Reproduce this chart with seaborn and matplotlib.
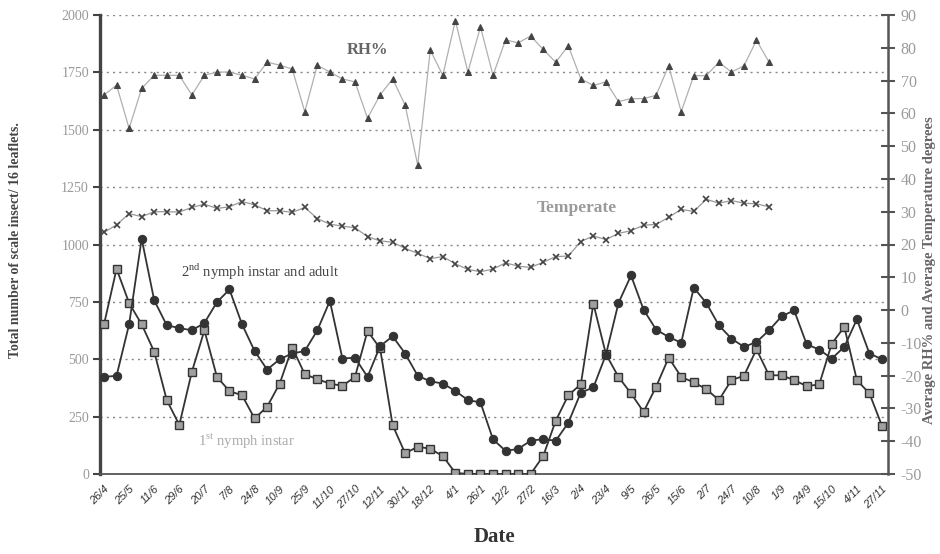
import matplotlib
matplotlib.use("Agg")
import matplotlib.pyplot as plt
import seaborn as sns
import numpy as np
import pandas as pd

date_labels = ["26/4", "25/5", "11/6", "29/6", "20/7", "7/8", "24/8", "10/9", "25/9",
               "11/10", "27/10", "12/11", "30/11", "18/12", "4/1", "26/1", "12/2", "27/2",
               "16/3", "2/4", "23/4", "9/5", "26/5", "15/6", "2/7", "24/7", "10/8", "1/9",
               "24/9", "15/10", "4/11", "27/11"]

first_instar = [652, 894, 745, 652, 533, 322, 214, 445, 626, 423,
                361, 343, 242, 293, 394, 551, 435, 413, 394, 384,
                423, 623, 548, 213, 90, 119, 110, 78, 5,
                0, 0, 0, 0, 0, 0,
                78, 232, 343, 391, 742, 522, 423, 351, 271, 380,
                507, 423, 399, 370, 322, 409, 428, 543, 430, 430,
                409, 383, 390, 568, 641, 409, 351, 210]

second_instar_adult = [423, 428, 652, 1025, 757, 648, 636, 626, 658, 749,
                       804, 652, 536, 455, 500, 525, 536, 626, 754, 503,
                       507, 423, 557, 600, 525, 428, 404, 394, 362, 322,
                       312, 151, 101, 109, 145, 152, 145, 223, 355, 377,
                       520, 745, 865, 716, 629, 597, 572, 812, 745, 648,
                       590, 554, 575, 626, 687, 713, 565, 542, 503, 554,
                       674, 525, 500]

rh = [65.6, 68.6, 55.4, 67.6, 71.6, 71.6, 71.6, 65.6, 71.6, 72.6,
      72.6, 71.6, 70.5, 75.6, 74.7, 73.5, 60.5, 74.7, 72.6, 70.5,
      69.6, 58.5, 65.6, 70.5, 62.5, 44.2, 79.3, 71.6, 88.3, 72.6,
      86.4, 71.6, 82.4, 81.5, 83.6, 79.5, 75.6, 80.6, 70.5, 68.5,
      69.6, 63.6, 64.5, 64.5, 65.5, 74.5, 60.5, 71.5, 71.5, 75.6,
      72.6, 74.5, 82.3, 75.6]

temperature = [23.7, 26.0, 29.4, 28.5, 30.0, 30.0, 29.9, 31.3, 32.3, 31.0,
               31.5, 33.1, 32.1, 30.3, 30.3, 29.8, 31.3, 27.9, 26.2, 25.6,
               25.1, 22.4, 21.1, 20.7, 18.8, 17.3, 15.7, 16.3, 14.1, 12.4,
               11.7, 12.5, 14.4, 13.4, 13.0, 14.6, 16.3, 16.5, 20.9, 22.6,
               21.5, 23.4, 24.2, 25.9, 26.1, 28.3, 30.7, 30.1, 33.8, 32.6,
               33.4, 32.6, 32.4, 31.5]

sns.set_style("white")
plt.rcParams['font.family'] = ['Liberation Serif', 'DejaVu Serif']
plt.rcParams['mathtext.fontset'] = 'custom'
plt.rcParams['mathtext.rm'] = 'Liberation Serif'

n_samples = len(first_instar)
idx = np.arange(n_samples)
df_ins = pd.DataFrame({"i": idx, "first": first_instar, "second": second_instar_adult})
df_cl = pd.DataFrame({"i": np.arange(len(rh)), "rh": rh, "temp": temperature})

fig = plt.figure(figsize=(9.4, 5.54), dpi=100)
ax = fig.add_axes([100/940, 80/554, 788/940, 459/554])
ax2 = ax.twinx()

dark = "#333333"
# grid
for v in [250, 500, 750, 1000, 1250, 1500, 1750, 2000]:
    ax.axhline(v, color="#888888", lw=1.0, ls=(0, (1.5, 3)), zorder=0)

sns.lineplot(data=df_ins, x="i", y="first", ax=ax, color=dark, lw=1.3,
             marker="s", markersize=6, markerfacecolor="#a0a0a0",
             markeredgecolor=dark, markeredgewidth=1.0, zorder=3)
sns.lineplot(data=df_ins, x="i", y="second", ax=ax, color=dark, lw=1.3,
             marker="o", markersize=6, markerfacecolor=dark,
             markeredgecolor=dark, zorder=3)

sns.lineplot(data=df_cl, x="i", y="rh", ax=ax2, color="#b0b0b0", lw=0.9,
             marker="^", markersize=4, markerfacecolor="#444444",
             markeredgecolor="#444444", zorder=3)
sns.lineplot(data=df_cl, x="i", y="temp", ax=ax2, color="#999999", lw=0.9,
             marker="x", markersize=4, markeredgecolor="#444444",
             markeredgewidth=1.2, zorder=3)

ax.set_xlim(-0.32, n_samples - 1 + 0.48)
ax.set_ylim(0, 2000)
ax2.set_ylim(-50, 90)

ax.set_yticks([0, 250, 500, 750, 1000, 1250, 1500, 1750, 2000])
ax.set_yticklabels(["0", "250", "500", "750", "1000", "1250", "1500", "1750", "2000"],
                   fontsize=10, color="#999999")
ax2.set_yticks(list(range(-50, 91, 10)))
ax2.set_yticklabels([str(v) for v in range(-50, 91, 10)], fontsize=11.5, color="#9a9a9a")

ax.set_xticks(idx)
xl = []
for k in idx:
    xl.append(date_labels[k // 2] if k % 2 == 0 else "")
ax.set_xticklabels(xl, rotation=45, ha="right", rotation_mode="anchor",
                   fontsize=8, family="Liberation Sans", style="italic", color="#333333")

for s in ["top"]:
    ax.spines[s].set_visible(False)
    ax2.spines[s].set_visible(False)
ax.spines["left"].set_linewidth(2.4)
ax.spines["left"].set_color("#444444")
ax.spines["bottom"].set_linewidth(1.3)
ax.spines["bottom"].set_color("#555555")
ax2.spines["right"].set_linewidth(1.8)
ax2.spines["right"].set_color("#555555")
ax2.spines["left"].set_visible(False)
ax2.spines["bottom"].set_visible(False)
ax.spines["right"].set_visible(False)

ax.tick_params(axis="y", direction="out", length=5, width=1.5, color="#444444", pad=3)
ax.tick_params(axis="x", direction="out", length=4, width=1.0, color="#555555", pad=3)
ax2.tick_params(axis="y", direction="inout", length=10, width=1.5, color="#555555", pad=4)

ax.set_xlabel("Date", fontsize=15, fontweight="bold", color="#333333", labelpad=12)
ax.set_ylabel("Total number of scale insect/ 16 leaflets.", fontsize=10,
              fontweight="bold", color="#444444")
ax.yaxis.set_label_coords(-78/788, 0.51)
ax2.set_ylabel("Average RH% and Average Temperature degrees", fontsize=10.5,
               fontweight="bold", color="#666666", rotation=90)
ax2.yaxis.set_label_coords(1 + 35/788, 0.444)

ax.text(0.34, 0.924, "RH%", transform=ax.transAxes, fontsize=12, fontweight="bold",
        color="#666666", ha="center", va="center")
ax.text(0.605, 0.58, "Temperate", transform=ax.transAxes, fontsize=12.5, fontweight="bold",
        color="#9a9a9a", ha="center", va="center")
ax.text(0.203, 0.440, "2$^{\\mathrm{nd}}$ nymph instar and adult", transform=ax.transAxes,
        fontsize=10.5, color="#444444", ha="center", va="center")
ax.text(0.186, 0.072, "1$^{\\mathrm{st}}$ nymph instar", transform=ax.transAxes,
        fontsize=10.5, color="#aaaaaa", ha="center", va="center")

fig.savefig("out.png", dpi=100)
